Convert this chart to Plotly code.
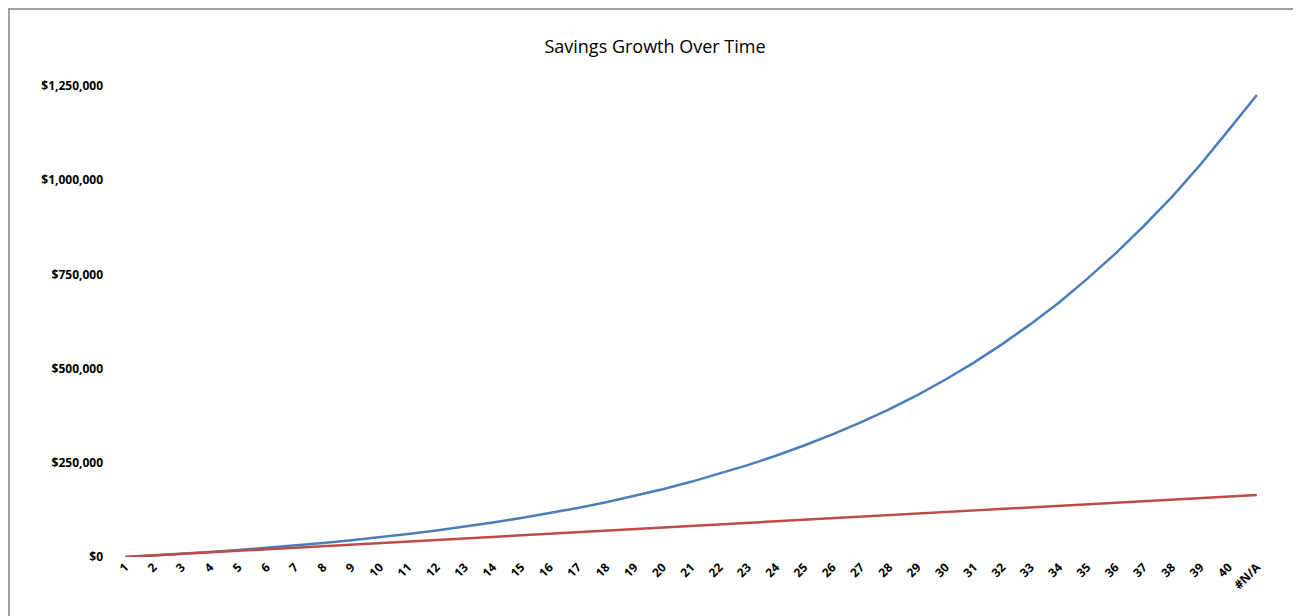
import plotly.graph_objects as go

periods = [str(i) for i in range(1, 41)] + ["#N/A"]

savings_growth = [
    0, 4100, 8600, 13400, 18700, 24400, 30600, 37300, 44600, 52500,
    61100, 70400, 80500, 91500, 103400, 116300, 130300, 145500, 162000, 180000,
    199500, 220700, 243700, 268700, 295900, 325300, 357300, 392000, 429700, 471000,
    516000, 565000, 618000, 675000, 738000, 805000, 878000, 956000, 1041000, 1133000,
    1226000,
]

contributions = [
    0, 4110, 8220, 12340, 16450, 20560, 24670, 28780, 32900, 37010,
    41120, 45230, 49340, 53460, 57570, 61680, 65790, 69900, 74020, 78130,
    82240, 86350, 90460, 94580, 98690, 102800, 106910, 111020, 115140, 119250,
    123360, 127470, 131580, 135700, 139810, 143920, 148030, 152140, 156260, 160370,
    164480,
]

y_ticks = [0, 250000, 500000, 750000, 1000000, 1250000]
y_tick_labels = ["$0", "$250,000", "$500,000", "$750,000", "$1,000,000", "$1,250,000"]

fig = go.Figure()
fig.add_trace(go.Scatter(x=periods, y=savings_growth, mode="lines",
                         line=dict(color="#4A7EBB", width=2.5), name="Savings"))
fig.add_trace(go.Scatter(x=periods, y=contributions, mode="lines",
                         line=dict(color="#BE4B48", width=2.5), name="Contributions"))

# page has an 8px body margin; figure coordinates are page coordinates minus 8
W, H = 1293, 608
L, R, T, B = 103, 30, 78, 59
pw = W - L - R
ph = H - T - B

def px_x(p):
    return (p - L) / pw

def px_y(p):
    return (H - B - p) / ph

fig.add_shape(type="rect", xref="paper", yref="paper",
              x0=px_x(1), x1=px_x(1289.5), y0=px_y(640), y1=px_y(1),
              line=dict(color="#A0A0A0", width=2), fillcolor="rgba(0,0,0,0)", layer="below")

fig.update_layout(
    width=W, height=H,
    margin=dict(l=L, r=R, t=T, b=B),
    paper_bgcolor="white", plot_bgcolor="white",
    showlegend=False,
    title=dict(text="Savings Growth Over Time", x=647 / W, xref="container", xanchor="center",
               y=1 - 39 / H, yref="container", yanchor="middle",
               font=dict(family="Open Sans", size=18, color="#000000")),
    xaxis=dict(type="category", range=[-0.5, 40.5], showgrid=False, zeroline=False,
               showline=False, ticks="", tickangle=-45,
               tickfont=dict(family="Open Sans", size=12, color="#000000", weight="bold")),
    yaxis=dict(range=[0, 1250000], tickvals=y_ticks, ticktext=y_tick_labels,
               showgrid=False, zeroline=False, showline=False, ticks="",
               ticklabelstandoff=7,
               tickfont=dict(family="Open Sans", size=12, color="#000000", weight="bold")),
)

fig.write_html("out.html")
